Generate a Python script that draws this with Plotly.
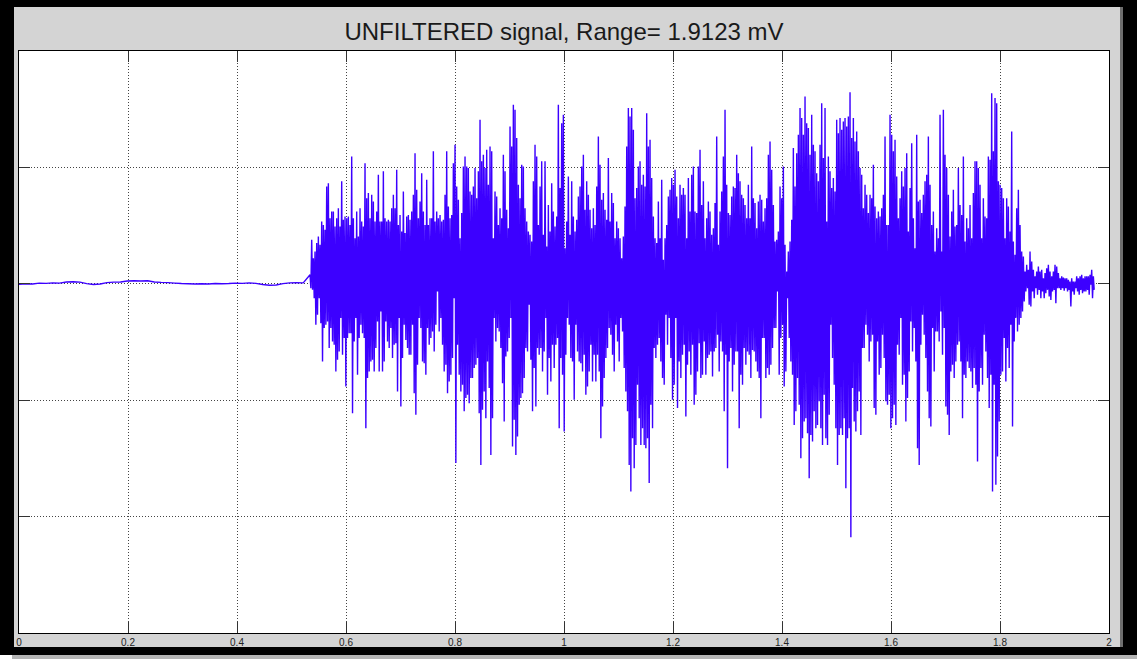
import numpy as np
import plotly.graph_objects as go

# ---- recording parameters ----
T_ON = 0.534      # burst onset (s)
FS = 654.0        # sample rate of the burst section (samples/s)

# resting baseline before the burst (mV)
rest_mv = [-0.002, 0.000, -0.001, 0.003, 0.002, 0.004, 0.003, 0.008, 0.009, 0.007,
           0.001, -0.003, -0.001, 0.005, 0.007, 0.008, 0.012, 0.013, 0.012, 0.013,
           0.008, 0.006, 0.005, 0.003, 0.001, 0.000, -0.001, 0.000, -0.001, 0.001,
           0.000, 0.001, 0.003, 0.002, 0.004, 0.002, -0.003, -0.006, -0.005, 0.001,
           0.004, 0.005, 0.004]

# burst: positive / negative excursions, segment A (0.53-0.88 s)
pos_a = [0.039, 0.189, 0.110, 0.139, 0.175, 0.203, 0.168, 0.268, 0.253, 0.232,
         0.418, 0.432, 0.282, 0.311, 0.311, 0.246, 0.282, 0.325, 0.246, 0.440,
         0.275, 0.289, 0.282, 0.289, 0.253, 0.547, 0.282, 0.196, 0.311, 0.203,
         0.325, 0.268, 0.246, 0.518, 0.368, 0.390, 0.282, 0.382, 0.354, 0.268,
         0.311, 0.468, 0.268, 0.268, 0.483, 0.282, 0.268, 0.275, 0.268, 0.325,
         0.382, 0.325, 0.490, 0.253, 0.296, 0.225, 0.397, 0.218, 0.289, 0.296,
         0.275, 0.311, 0.382, 0.561, 0.404, 0.282, 0.354, 0.475, 0.311, 0.253,
         0.447, 0.253, 0.282, 0.282, 0.569, 0.268, 0.311, 0.282, 0.296, 0.268,
         0.275, 0.382, 0.569, 0.332, 0.282, 0.296, 0.518, 0.597, 0.418, 0.361,
         0.196, 0.304, 0.504, 0.547, 0.504, 0.497, 0.397, 0.382, 0.418, 0.497,
         0.368, 0.483, 0.705, 0.526, 0.554, 0.497, 0.576, 0.425, 0.590, 0.569,
         0.196, 0.397, 0.375, 0.253]
neg_a = [-0.019, -0.026, -0.062, -0.176, -0.133, -0.062, -0.169, -0.334, -0.190, -0.176,
         -0.162, -0.276, -0.190, -0.248, -0.262, -0.377, -0.326, -0.291, -0.147, -0.305,
         -0.233, -0.441, -0.233, -0.212, -0.212, -0.556, -0.248, -0.147, -0.391, -0.233,
         -0.176, -0.212, -0.233, -0.620, -0.405, -0.377, -0.334, -0.326, -0.377, -0.276,
         -0.162, -0.377, -0.119, -0.377, -0.334, -0.162, -0.248, -0.276, -0.190, -0.319,
         -0.262, -0.255, -0.463, -0.147, -0.527, -0.319, -0.176, -0.241, -0.276, -0.305,
         -0.305, -0.176, -0.470, -0.563, -0.348, -0.147, -0.190, -0.334, -0.341, -0.391,
         -0.190, -0.262, -0.233, -0.205, -0.291, -0.176, -0.033, -0.205, -0.147, -0.262,
         -0.377, -0.348, -0.470, -0.420, -0.391, -0.319, -0.062, -0.770, -0.262, -0.391,
         -0.463, -0.434, -0.548, -0.491, -0.477, -0.513, -0.405, -0.405, -0.362, -0.348,
         -0.319, -0.556, -0.778, -0.541, -0.463, -0.577, -0.334, -0.448, -0.735, -0.577,
         -0.147, -0.248, -0.190, -0.205]

# segment B (0.88-1.24 s)
pos_b = [0.325, 0.282, 0.554, 0.483, 0.318, 0.239, 0.676, 0.590, 0.769, 0.748,
         0.626, 0.425, 0.368, 0.511, 0.504, 0.325, 0.268, 0.225, 0.211, 0.182,
         0.440, 0.597, 0.547, 0.253, 0.418, 0.526, 0.211, 0.526, 0.160, 0.339,
         0.225, 0.432, 0.311, 0.246, 0.289, 0.769, 0.411, 0.690, 0.726, 0.153,
         0.268, 0.461, 0.211, 0.440, 0.289, 0.225, 0.275, 0.375, 0.418, 0.504,
         0.554, 0.318, 0.440, 0.382, 0.318, 0.239, 0.325, 0.253, 0.418, 0.633,
         0.511, 0.361, 0.390, 0.318, 0.275, 0.540, 0.268, 0.390, 0.347, 0.196,
         0.268, 0.239, 0.196, 0.110, 0.203, 0.332, 0.590, 0.755, 0.719, 0.755,
         0.662, 0.368, 0.411, 0.504, 0.526, 0.425, 0.468, 0.418, 0.733, 0.590,
         0.619, 0.454, 0.289, 0.196, 0.175, 0.354, 0.196, 0.447, 0.103, 0.196,
         0.253, 0.375, 0.404, 0.454, 0.425, 0.490, 0.375, 0.282, 0.425, 0.382,
         0.411, 0.382, 0.196, 0.454, 0.311, 0.468, 0.504]
neg_b = [-0.276, -0.427, -0.591, -0.312, -0.291, -0.233, -0.147, -0.699, -0.584, -0.735,
         -0.656, -0.520, -0.491, -0.470, -0.405, -0.276, -0.291, -0.090, -0.326, -0.548,
         -0.362, -0.527, -0.276, -0.305, -0.276, -0.377, -0.291, -0.147, -0.477, -0.319,
         -0.420, -0.262, -0.362, -0.262, -0.233, -0.620, -0.319, -0.391, -0.634, -0.305,
         -0.147, -0.176, -0.319, -0.334, -0.498, -0.176, -0.291, -0.334, -0.341, -0.377,
         -0.305, -0.477, -0.441, -0.377, -0.262, -0.420, -0.305, -0.420, -0.305, -0.377,
         -0.663, -0.527, -0.405, -0.319, -0.276, -0.190, -0.219, -0.305, -0.377, -0.176,
         -0.248, -0.334, -0.147, -0.205, -0.362, -0.463, -0.548, -0.778, -0.892, -0.663,
         -0.792, -0.692, -0.434, -0.577, -0.692, -0.620, -0.692, -0.706, -0.663, -0.856,
         -0.520, -0.620, -0.276, -0.319, -0.262, -0.233, -0.334, -0.405, -0.434, -0.133,
         -0.262, -0.147, -0.319, -0.498, -0.434, -0.147, -0.534, -0.334, -0.405, -0.305,
         -0.262, -0.570, -0.348, -0.291, -0.391, -0.262, -0.520]

# segment C (1.24-1.60 s)
pos_c = [0.311, 0.304, 0.504, 0.576, 0.339, 0.440, 0.196, 0.282, 0.354, 0.311,
         0.211, 0.239, 0.347, 0.633, 0.168, 0.311, 0.397, 0.547, 0.748, 0.425,
         0.304, 0.296, 0.375, 0.418, 0.411, 0.554, 0.475, 0.440, 0.382, 0.368,
         0.339, 0.282, 0.425, 0.282, 0.590, 0.368, 0.347, 0.239, 0.354, 0.382,
         0.361, 0.268, 0.325, 0.368, 0.554, 0.611, 0.490, 0.339, 0.182, 0.189,
         0.225, 0.418, 0.368, 0.504, 0.168, 0.053, 0.139, 0.182, 0.275, 0.583,
         0.418, 0.561, 0.640, 0.755, 0.712, 0.640, 0.805, 0.690, 0.669, 0.554,
         0.726, 0.597, 0.569, 0.475, 0.440, 0.597, 0.776, 0.540, 0.755, 0.268,
         0.547, 0.483, 0.411, 0.454, 0.397, 0.705, 0.647, 0.712, 0.662, 0.697,
         0.712, 0.676, 0.719, 0.8231, 0.626, 0.712, 0.611, 0.654, 0.569, 0.497,
         0.468, 0.325, 0.425, 0.382, 0.304, 0.382, 0.368, 0.511, 0.332, 0.282,
         0.311, 0.289, 0.325, 0.382, 0.633, 0.253, 0.253]
neg_c = [-0.477, -0.377, -0.255, -0.405, -0.391, -0.248, -0.391, -0.319, -0.305, -0.291,
         -0.398, -0.291, -0.276, -0.219, -0.377, -0.248, -0.291, -0.548, -0.305, -0.792,
         -0.334, -0.276, -0.463, -0.348, -0.291, -0.291, -0.620, -0.391, -0.434, -0.276,
         -0.348, -0.291, -0.305, -0.405, -0.284, -0.291, -0.334, -0.377, -0.405, -0.577,
         -0.233, -0.233, -0.405, -0.362, -0.391, -0.348, -0.276, -0.190, -0.190, -0.033,
         -0.391, -0.233, -0.176, -0.441, -0.377, -0.062, -0.233, -0.334, -0.391, -0.606,
         -0.548, -0.405, -0.520, -0.749, -0.663, -0.591, -0.577, -0.642, -0.835, -0.649,
         -0.677, -0.548, -0.620, -0.606, -0.505, -0.620, -0.692, -0.477, -0.663, -0.692,
         -0.563, -0.176, -0.319, -0.434, -0.620, -0.778, -0.649, -0.620, -0.649, -0.577,
         -0.878, -0.663, -0.620, -1.0892, -0.448, -0.591, -0.634, -0.548, -0.463, -0.649,
         -0.276, -0.276, -0.176, -0.219, -0.334, -0.248, -0.219, -0.534, -0.563, -0.248,
         -0.391, -0.362, -0.219, -0.319, -0.505, -0.520, -0.477]

# segment D (1.60-1.97 s), burst end and residual noise
pos_d = [0.726, 0.640, 0.569, 0.619, 0.461, 0.282, 0.368, 0.483, 0.418, 0.497,
         0.561, 0.225, 0.411, 0.604, 0.282, 0.153, 0.640, 0.354, 0.361, 0.304,
         0.382, 0.440, 0.468, 0.633, 0.425, 0.253, 0.311, 0.139, 0.239, 0.196,
         0.726, 0.139, 0.748, 0.554, 0.497, 0.382, 0.203, 0.311, 0.404, 0.246,
         0.253, 0.497, 0.339, 0.296, 0.547, 0.182, 0.282, 0.239, 0.339, 0.196,
         0.390, 0.526, 0.526, 0.497, 0.425, 0.196, 0.368, 0.289, 0.282, 0.547,
         0.533, 0.818, 0.569, 0.798, 0.776, 0.440, 0.425, 0.411, 0.368, 0.196,
         0.368, 0.332, 0.225, 0.654, 0.182, 0.125, 0.325, 0.404, 0.253, 0.139,
         0.117, 0.053, 0.082, 0.060, 0.139, 0.096, 0.060, 0.032, 0.053, 0.074,
         0.053, 0.060, 0.024, 0.046, 0.067, 0.082, 0.053, 0.032, 0.053, 0.082,
         0.074, 0.046, 0.024, 0.032, 0.027, 0.024, 0.024, 0.017, 0.010, 0.024,
         0.010, 0.010, 0.032, 0.024, 0.032, 0.039, 0.024, 0.032, 0.032, 0.032,
         0.039, 0.060, 0.032]
neg_d = [-0.620, -0.577, -0.520, -0.606, -0.262, -0.305, -0.147, -0.434, -0.391, -0.591,
         -0.491, -0.377, -0.162, -0.291, -0.190, -0.334, -0.706, -0.778, -0.262, -0.133,
         -0.219, -0.319, -0.463, -0.577, -0.613, -0.190, -0.377, -0.205, -0.205, -0.248,
         -0.119, -0.305, -0.190, -0.527, -0.563, -0.649, -0.377, -0.348, -0.405, -0.334,
         -0.262, -0.248, -0.334, -0.577, -0.391, -0.405, -0.334, -0.362, -0.377, -0.448,
         -0.362, -0.434, -0.763, -0.463, -0.362, -0.434, -0.219, -0.291, -0.405, -0.534,
         -0.391, -0.892, -0.434, -0.863, -0.742, -0.591, -0.391, -0.377, -0.233, -0.420,
         -0.276, -0.362, -0.176, -0.613, -0.248, -0.147, -0.205, -0.176, -0.147, -0.119,
         -0.076, -0.033, -0.019, -0.090, -0.097, -0.033, -0.062, -0.019, -0.047, -0.026,
         -0.062, -0.033, -0.062, -0.040, -0.026, -0.054, -0.069, -0.033, -0.026, -0.083,
         -0.019, -0.019, -0.026, -0.019, -0.030, -0.019, -0.033, -0.026, -0.097, -0.033,
         -0.047, -0.019, -0.033, -0.047, -0.026, -0.040, -0.033, -0.033, -0.026, -0.047,
         -0.004, -0.062, -0.026]

# axis ticks
x_ticks = [0, 0.2, 0.4, 0.6, 0.8, 1, 1.2, 1.4, 1.6, 1.8, 2]
x_ticktext = ["0", "0.2", "0.4", "0.6", "0.8", "1", "1.2", "1.4", "1.6", "1.8", "2"]
y_ticks = [-1.5, -1.0, -0.5, 0.0, 0.5, 1.0]

# ---- assemble the time series ----
pos = np.array(pos_a + pos_b + pos_c + pos_d)
neg = np.array(neg_a + neg_b + neg_c + neg_d)
burst = np.column_stack([pos, neg]).ravel()          # alternate +/- excursions
t_burst = T_ON + np.arange(burst.size) / FS
t_rest = np.arange(len(rest_mv)) * (T_ON / len(rest_mv))

t = np.concatenate([t_rest, t_burst])
v = np.concatenate([np.array(rest_mv), burst])
sig_range = v.max() - v.min()

# ---- figure geometry (pixels) ----
W, H = 1137, 659
L, R, T, B = 19, 1109, 51, 633          # plot area edges


def px(xp):
    return (xp - L) / (R - L)


def py(yp):
    return (B - yp) / (B - T)


fig = go.Figure()
fig.add_trace(go.Scatter(
    x=t, y=v, mode="lines",
    line=dict(color="#3c00ff", width=1.4, simplify=False),
    hoverinfo="skip", showlegend=False,
))

# window frame: black border, grey panel, white axes area, drop shadow
shapes = [
    dict(type="rect", x0=px(0), x1=px(W), y0=py(0), y1=py(655),
         fillcolor="#000000", line_width=0),
    dict(type="rect", x0=px(14), x1=px(1121), y0=py(7), y1=py(647),
         fillcolor="#d4d4d4", line_width=0),
    dict(type="rect", x0=px(1120), x1=px(1123), y0=py(7), y1=py(647),
         fillcolor="#6e6e6e", line_width=0),
    dict(type="rect", x0=px(L), x1=px(R), y0=py(T), y1=py(B),
         fillcolor="#ffffff", line_width=0),
    dict(type="rect", x0=px(12), x1=px(W), y0=py(655), y1=py(H),
         fillcolor="#b4b4b4", line_width=0),
]
for s in shapes:
    s.update(xref="paper", yref="paper", layer="below")

axis_common = dict(
    showline=True, linecolor="#000000", linewidth=1, mirror="ticks",
    ticks="inside", ticklen=11, tickwidth=1, tickcolor="#333333",
    showgrid=True, gridcolor="#444444", gridwidth=1, griddash="1px,2px",
    zeroline=False,
)

fig.update_layout(
    width=W, height=H,
    margin=dict(l=L, r=W - R, t=T, b=H - B, pad=0),
    paper_bgcolor="#ffffff",
    plot_bgcolor="rgba(0,0,0,0)",
    shapes=shapes,
    title=dict(
        text=f"UNFILTERED signal, Range= {sig_range:.4f} mV",
        x=0.5, xref="paper", xanchor="center",
        y=1 - 32 / H, yref="container", yanchor="middle",
        font=dict(family="Liberation Sans, Arial, sans-serif", size=24, color="#1a1a1a"),
    ),
    xaxis=dict(
        range=[0, 2], tickvals=x_ticks, ticktext=x_ticktext,
        tickfont=dict(family="Liberation Sans, Arial, sans-serif", size=10, color="#222222"),
        **axis_common,
    ),
    yaxis=dict(
        range=[-1.5, 1.0], tickvals=y_ticks, showticklabels=False,
        **axis_common,
    ),
)

fig.write_html("out.html")
